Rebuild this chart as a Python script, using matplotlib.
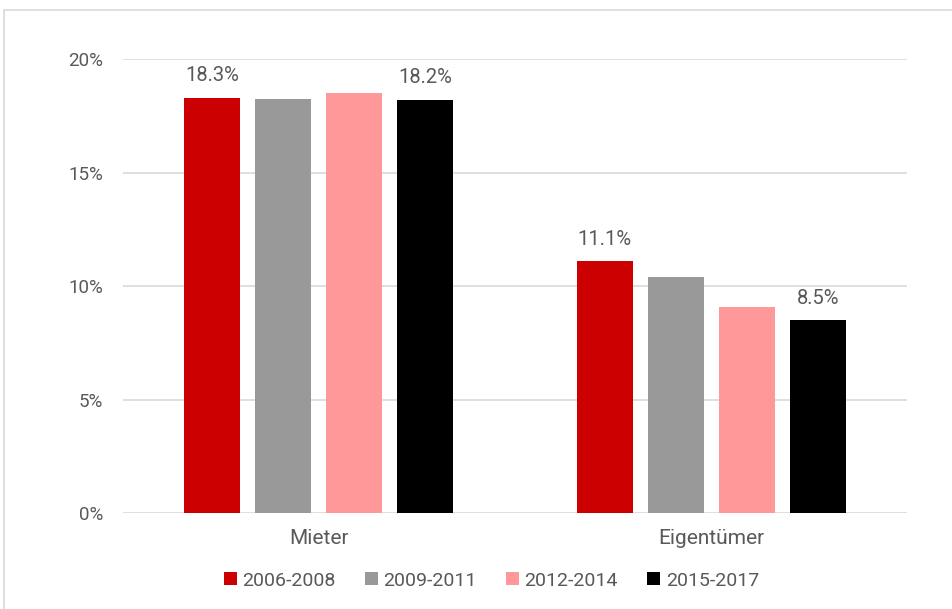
import numpy as np
import matplotlib.pyplot as plt
from matplotlib.patches import Rectangle

plt.rcParams['font.family'] = ['Roboto', 'DejaVu Sans']

categories = ['Mieter', 'Eigentümer']
periods = ['2006-2008', '2009-2011', '2012-2014', '2015-2017']
values = [
    [18.3, 11.1],   # 2006-2008
    [18.25, 10.4],  # 2009-2011
    [18.5, 9.1],    # 2012-2014
    [18.2, 8.5],    # 2015-2017
]
show_label = [True, False, False, True]
colors = ['#cc0000', '#999999', '#ff9999', '#000000']

text_color = '#595959'

fig = plt.figure(figsize=(9.52, 6.09), dpi=100)
ax = fig.add_axes([0.129, 0.157, 0.824, 0.746])

# Rahmen um die Grafik
fig.patches.append(Rectangle((4 / 952, -0.1), 1.2, 1 - 10 / 609 + 0.1,
                             transform=fig.transFigure, fill=False,
                             edgecolor='#d9d9d9', linewidth=1.2))

x = np.arange(len(categories))
pitch = 0.181
width = 0.143
for i, (per, vals) in enumerate(zip(periods, values)):
    pos = x + (i - 1.5) * pitch
    bars = ax.bar(pos, vals, width=width, color=colors[i], label=per, zorder=3)
    if show_label[i]:
        for b, v in zip(bars, vals):
            ax.text(b.get_x() + b.get_width() / 2, v + 0.55, f'{v:.1f}%',
                    ha='center', va='bottom', fontsize=14.5, color=text_color)

ax.set_xlim(-0.5, 1.5)
ax.set_ylim(0, 20)
ax.set_yticks([0, 5, 10, 15, 20])
ax.set_yticklabels([f'{t}%' for t in [0, 5, 10, 15, 20]])
ax.set_xticks(x)
ax.set_xticklabels(categories)
ax.tick_params(axis='both', length=0, colors=text_color)
ax.tick_params(axis='y', pad=14, labelsize=13.5)
ax.tick_params(axis='x', pad=11, labelsize=15)
ax.grid(axis='y', color='#d9d9d9', linewidth=1.2, zorder=0)
for s in ax.spines.values():
    s.set_visible(False)

ax.legend(loc='upper center', bbox_to_anchor=(0.47, -0.09), ncol=4,
          frameon=False, fontsize=14, labelcolor=text_color,
          handlelength=0.65, handleheight=0.65, handletextpad=0.3,
          columnspacing=1.5)

fig.savefig('out.png', dpi=100)
